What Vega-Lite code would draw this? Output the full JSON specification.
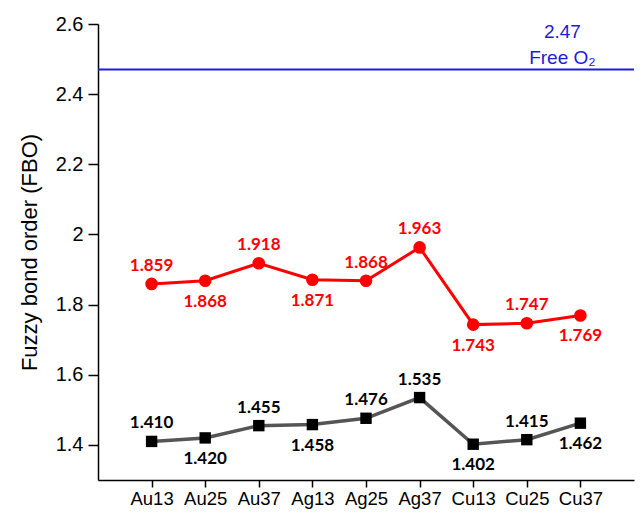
{
  "$schema": "https://vega.github.io/schema/vega-lite/v6.json",
  "width": 536,
  "height": 456,
  "autosize": {"type": "none"},
  "padding": {"left": 98, "top": 24, "right": 10, "bottom": 35},
  "background": "white",
  "config": {"view": {"stroke": null}, "font": "Liberation Sans"},
  "datasets": {
    "fbo": [
      {"cat": "Au13", "set": "upper", "fbo": 1.859, "pos": "above"},
      {"cat": "Au25", "set": "upper", "fbo": 1.868, "pos": "below"},
      {"cat": "Au37", "set": "upper", "fbo": 1.918, "pos": "above"},
      {"cat": "Ag13", "set": "upper", "fbo": 1.871, "pos": "below"},
      {"cat": "Ag25", "set": "upper", "fbo": 1.868, "pos": "above"},
      {"cat": "Ag37", "set": "upper", "fbo": 1.963, "pos": "above"},
      {"cat": "Cu13", "set": "upper", "fbo": 1.743, "pos": "below"},
      {"cat": "Cu25", "set": "upper", "fbo": 1.747, "pos": "above"},
      {"cat": "Cu37", "set": "upper", "fbo": 1.769, "pos": "below"},
      {"cat": "Au13", "set": "lower", "fbo": 1.410, "pos": "above"},
      {"cat": "Au25", "set": "lower", "fbo": 1.420, "pos": "below"},
      {"cat": "Au37", "set": "lower", "fbo": 1.455, "pos": "above"},
      {"cat": "Ag13", "set": "lower", "fbo": 1.458, "pos": "below"},
      {"cat": "Ag25", "set": "lower", "fbo": 1.476, "pos": "above"},
      {"cat": "Ag37", "set": "lower", "fbo": 1.535, "pos": "above"},
      {"cat": "Cu13", "set": "lower", "fbo": 1.402, "pos": "below"},
      {"cat": "Cu25", "set": "lower", "fbo": 1.415, "pos": "above"},
      {"cat": "Cu37", "set": "lower", "fbo": 1.462, "pos": "below"}
    ],
    "ref": [
      {"cat": "Cu37", "fbo": 2.47, "name": "Free O₂"}
    ]
  },
  "encoding": {
    "x": {
      "field": "cat", "type": "nominal", "sort": null,
      "scale": {"type": "point", "padding": 1, "domain": ["Au13", "Au25", "Au37", "Ag13", "Ag25", "Ag37", "Cu13", "Cu25", "Cu37"]},
      "axis": {"title": null, "labelAngle": 0, "labelFontSize": 18.5, "labelColor": "#000", "labelPadding": 2, "tickSize": 7, "tickColor": "#000", "domainColor": "#000", "domainWidth": 1.5, "tickWidth": 1.5, "grid": false}
    },
    "y": {
      "field": "fbo", "type": "quantitative",
      "scale": {"domain": [1.3, 2.6], "nice": false, "zero": false},
      "axis": {"title": "Fuzzy bond order (FBO)", "titleFontSize": 22, "titleFontWeight": "normal", "titleColor": "#000", "titlePadding": 14, "values": [1.4, 1.6, 1.8, 2, 2.2, 2.4, 2.6], "format": "~g", "labelFontSize": 20, "labelColor": "#000", "labelPadding": 5, "tickSize": 10, "tickColor": "#000", "domainColor": "#000", "domainWidth": 1.5, "tickWidth": 1.5, "grid": false}
    }
  },
  "layer": [
    {
      "data": {"name": "ref"},
      "mark": {"type": "rule", "color": "#1c1cd6", "strokeWidth": 2},
      "encoding": {"x": null}
    },
    {
      "data": {"name": "ref"},
      "mark": {"type": "text", "color": "#1c1cd6", "fontSize": 19, "dx": -18, "dy": -38, "baseline": "middle"},
      "encoding": {"text": {"field": "fbo", "type": "quantitative", "format": ".2f"}}
    },
    {
      "data": {"name": "ref"},
      "mark": {"type": "text", "color": "#1c1cd6", "fontSize": 19, "dx": -18, "dy": -12, "baseline": "middle"},
      "encoding": {"text": {"field": "name"}}
    },
    {
      "data": {"name": "fbo"},
      "transform": [{"filter": "datum.set == 'upper'"}],
      "mark": {"type": "line", "color": "#ff0000", "strokeWidth": 3}
    },
    {
      "data": {"name": "fbo"},
      "transform": [{"filter": "datum.set == 'upper'"}],
      "mark": {"type": "point", "shape": "circle", "filled": true, "color": "#ff0000", "size": 160, "opacity": 1}
    },
    {
      "data": {"name": "fbo"},
      "transform": [{"filter": "datum.set == 'lower'"}],
      "mark": {"type": "line", "color": "#555555", "strokeWidth": 3.5}
    },
    {
      "data": {"name": "fbo"},
      "transform": [{"filter": "datum.set == 'lower'"}],
      "mark": {"type": "point", "shape": "square", "filled": true, "color": "#000000", "size": 130, "opacity": 1}
    },
    {
      "data": {"name": "fbo"},
      "transform": [{"filter": "datum.pos == 'above'"}],
      "mark": {"type": "text", "font": "Lato", "fontWeight": "bold", "fontSize": 17, "dy": -18, "baseline": "middle"},
      "encoding": {
        "text": {"field": "fbo", "type": "quantitative", "format": ".3f"},
        "color": {"field": "set", "type": "nominal", "scale": {"domain": ["upper", "lower"], "range": ["#ff0000", "#000000"]}, "legend": null}
      }
    },
    {
      "data": {"name": "fbo"},
      "transform": [{"filter": "datum.pos == 'below'"}],
      "mark": {"type": "text", "font": "Lato", "fontWeight": "bold", "fontSize": 17, "dy": 21, "baseline": "middle"},
      "encoding": {
        "text": {"field": "fbo", "type": "quantitative", "format": ".3f"},
        "color": {"field": "set", "type": "nominal", "scale": {"domain": ["upper", "lower"], "range": ["#ff0000", "#000000"]}, "legend": null}
      }
    }
  ]
}
